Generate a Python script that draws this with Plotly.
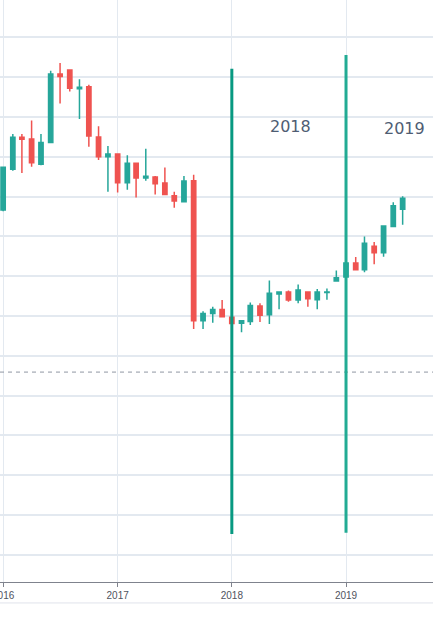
import plotly.graph_objects as go

dates = [
    "2016-01-01", "2016-02-01", "2016-03-01", "2016-04-01", "2016-05-01", "2016-06-01",
    "2016-07-01", "2016-08-01", "2016-09-01", "2016-10-01", "2016-11-01", "2016-12-01",
    "2017-01-01", "2017-02-01", "2017-03-01", "2017-04-01", "2017-05-01", "2017-06-01",
    "2017-07-01", "2017-08-01", "2017-09-01", "2017-10-01", "2017-11-01", "2017-12-01",
    "2018-01-01", "2018-02-01", "2018-03-01", "2018-04-01", "2018-05-01", "2018-06-01",
    "2018-07-01", "2018-08-01", "2018-09-01", "2018-10-01", "2018-11-01", "2018-12-01",
    "2019-01-01", "2019-02-01", "2019-03-01", "2019-04-01", "2019-05-01", "2019-06-01",
    "2019-07-01",
]
open_ = [126.6, 136.9, 144.9, 144.5, 138.1, 143.6, 160.8, 161.8, 157.1, 157.6, 145.0, 140.0,
         140.7, 133.5, 138.4, 134.7, 134.9, 133.4, 130.2, 128.7, 134.0, 98.8, 100.6, 101.6,
         99.7, 98.2, 98.6, 102.5, 100.3, 105.5, 106.0, 104.0, 106.0, 104.1, 105.9, 108.8,
         109.8, 113.3, 111.6, 117.5, 115.9, 122.5, 126.8]
high = [137.5, 145.7, 145.7, 149.1, 145.7, 161.6, 163.6, 161.9, 159.5, 158.1, 147.7, 142.7,
        140.8, 140.4, 138.5, 142.0, 135.2, 137.3, 131.2, 135.2, 135.5, 101.2, 102.3, 104.0,
        100.5, 99.0, 103.4, 103.2, 108.9, 106.1, 106.4, 107.9, 106.1, 106.8, 106.9, 111.4,
        114.1, 114.8, 120.0, 118.6, 122.7, 128.6, 130.1]
low = [126.3, 136.5, 135.9, 137.5, 137.9, 143.5, 153.4, 156.4, 149.5, 142.5, 139.2, 131.2,
       131.0, 131.7, 129.8, 134.0, 130.5, 130.4, 127.2, 128.6, 96.7, 96.7, 98.3, 99.7,
       97.2, 95.9, 97.7, 98.5, 98.0, 101.7, 103.6, 103.2, 102.3, 101.7, 104.1, 108.7,
       109.3, 111.5, 111.0, 113.0, 114.9, 122.4, 122.9]
close = [137.4, 144.9, 144.4, 138.5, 143.6, 160.8, 160.2, 157.2, 157.5, 145.2, 140.0, 140.7,
         133.5, 138.4, 134.7, 135.1, 133.2, 130.5, 128.9, 133.9, 98.8, 100.6, 101.6, 99.8,
         98.1, 98.8, 102.6, 100.2, 105.7, 106.0, 104.0, 106.5, 104.3, 106.0, 106.0, 109.6,
         113.3, 111.6, 118.3, 115.9, 122.6, 127.7, 129.6]

# year marker lines and labels
marker_dates = ["2018-01-01", "2019-01-01"]
marker_top = [162.1, 165.6]
marker_bottom = [45.2, 45.5]
marker_colors = ["#089981", "#22ab94"]
label_texts = ["2018", "2019"]
label_dates = ["2018-07-08", "2019-07-08"]
label_values = [147.7, 147.2]

ref_level = 85.9

UP = "#26a69a"
DOWN = "#ef5350"

fig = go.Figure()
fig.add_trace(go.Candlestick(
    x=dates, open=open_, high=high, low=low, close=close,
    increasing=dict(line=dict(color=UP, width=1.5), fillcolor=UP),
    decreasing=dict(line=dict(color=DOWN, width=1.5), fillcolor=DOWN),
    whiskerwidth=0,
    showlegend=False,
    hoverinfo="skip",
))

shapes = []
# dashed reference line
shapes.append(dict(type="line", xref="paper", x0=0, x1=1, yref="y", y0=ref_level, y1=ref_level,
                   line=dict(color="#8f96a3", width=1, dash="4px,4px"), layer="above"))
for d, t, b, c in zip(marker_dates, marker_top, marker_bottom, marker_colors):
    shapes.append(dict(type="line", xref="x", x0=d, x1=d, yref="y", y0=b, y1=t,
                       line=dict(color=c, width=3), layer="above"))
# light bottom border under the time scale
shapes.append(dict(type="line", xref="paper", x0=0, x1=1, yref="paper", y0=-0.036, y1=-0.036,
                   line=dict(color="#e0e3eb", width=1)))

annotations = []
for txt, d, v in zip(label_texts, label_dates, label_values):
    annotations.append(dict(x=d, y=v, xref="x", yref="y", text=txt, showarrow=False,
                            font=dict(family="DejaVu Sans", size=16, color="#4f5d73")))

fig.update_layout(
    width=433, height=625,
    margin=dict(l=0, r=0, t=0, b=43, autoexpand=False),
    paper_bgcolor="white", plot_bgcolor="white",
    shapes=shapes, annotations=annotations,
    showlegend=False,
    xaxis=dict(
        type="date",
        range=["2015-12-22", "2019-10-06"],
        rangeslider=dict(visible=False),
        dtick="M12", tick0="2016-01-01", tickformat="%Y",
        showgrid=True, gridcolor="#e3e9f0", gridwidth=1,
        showline=True, linecolor="#7f838d", linewidth=1,
        ticks="outside", ticklen=4, tickcolor="#7f838d", tickwidth=1,
        ticklabeloverflow="allow", automargin=False,
        tickfont=dict(family="Liberation Sans", size=10, color="#50535e"),
        zeroline=False, fixedrange=True,
    ),
    yaxis=dict(
        range=[33.15, 179.4],
        dtick=10, tick0=0,
        showgrid=True, gridcolor="#e3e9f0", gridwidth=1.5,
        showticklabels=False, zeroline=False, showline=False, ticks="",
        fixedrange=True, automargin=False,
    ),
)

fig.write_html("out.html")
